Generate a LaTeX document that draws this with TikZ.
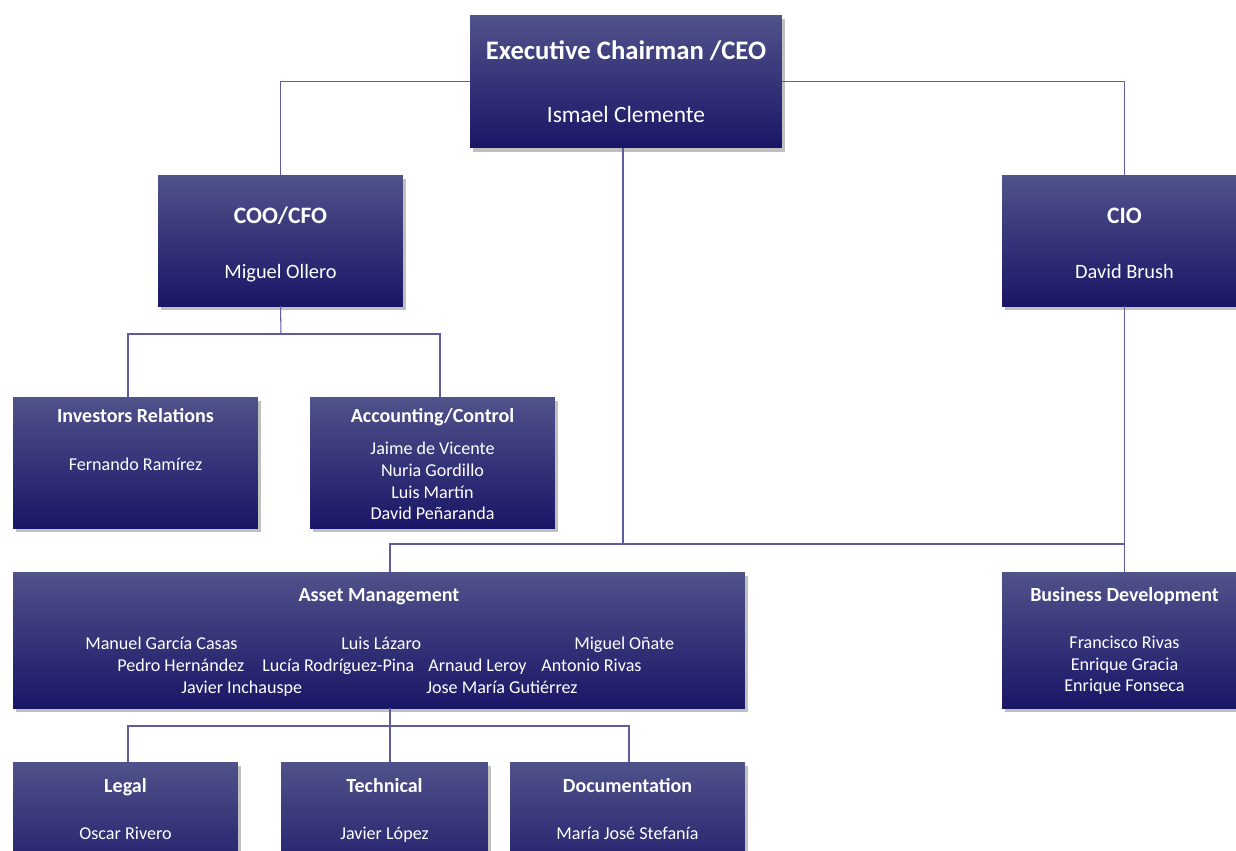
\documentclass[tikz,border=0pt]{standalone}
\usepackage{fontspec}
\setmainfont{Carlito}
\usetikzlibrary{shadows}

\definecolor{boxtop}{HTML}{50528A}
\definecolor{boxmid}{HTML}{211E73}
\definecolor{boxbot}{HTML}{1A1667}
\definecolor{linkcol}{HTML}{5C5C9E}

\begin{document}
\begin{tikzpicture}[x=0.02cm,y=-0.02cm]
    \tikzstyle{unit}=[rectangle, inner sep=0pt, outer sep=0pt,
        top color=boxtop, middle color=boxmid, bottom color=boxbot,
        drop shadow={shadow xshift=1.5pt, shadow yshift=-2.5pt, opacity=0.35, fill=black!70}]
    \tikzstyle{line text}=[text=white, text height=2.2ex, text depth=0.4ex]
    \tikzstyle{ceo head}=[line text, font=\bfseries\fontsize{15.2}{18}\selectfont]
    \tikzstyle{ceo member}=[line text, font=\fontsize{13.3}{16}\selectfont]
    \tikzstyle{big head}=[line text, font=\bfseries\fontsize{13.4}{16}\selectfont]
    \tikzstyle{big member}=[line text, font=\fontsize{11.6}{14}\selectfont]
    \tikzstyle{head}=[line text, font=\bfseries\fontsize{11.4}{13.5}\selectfont]
    \tikzstyle{member}=[line text, font=\fontsize{10.3}{12.3}\selectfont]
    \tikzstyle{crew}=[text=white, align=center, font=\fontsize{10.3}{12.3}\selectfont]
    \tikzstyle{link}=[draw=linkcol, line width=0.6pt]

    \useasboundingbox[fill=white] (0,0) rectangle (1236,850);

    % Top management
    \node[unit, minimum width=6.24cm, minimum height=2.66cm] (ceo) at (626,81.5) {};
    \node[ceo head] (ceo-t) at (626,52) {Executive Chairman /CEO};
    \node[ceo member] (ceo-n) at (626,115) {Ismael Clemente};

    \node[unit, minimum width=4.9cm, minimum height=2.62cm] (coo) at (280.5,240.5) {};
    \node[big head] (coo-t) at (280.5,216) {COO/CFO};
    \node[big member] (coo-n) at (280.5,271) {Miguel Ollero};

    \node[unit, minimum width=4.9cm, minimum height=2.62cm] (cio) at (1124.5,240.5) {};
    \node[big head] (cio-t) at (1124.5,216) {CIO};
    \node[big member] (cio-n) at (1124.5,271) {David Brush};

    % Departments under the COO/CFO
    \node[unit, minimum width=4.9cm, minimum height=2.62cm] (ir) at (135.5,462.5) {};
    \node[head] (ir-t) at (135.5,415) {Investors Relations};
    \node[member] (ir-n) at (135.5,463) {Fernando Ramírez};

    \node[unit, minimum width=4.9cm, minimum height=2.62cm] (acc) at (432.5,462.5) {};
    \node[head] (acc-t) at (432.5,415) {Accounting/Control};
    \node[crew] (acc-n) at (432.5,481) {Jaime de Vicente\\Nuria Gordillo\\Luis Martín\\David Peñaranda};

    % Asset management and business development
    \node[unit, minimum width=14.64cm, minimum height=2.72cm] (am) at (379,640) {};
    \node[head] (am-t) at (379,594) {Asset Management};
    \foreach \x/\y/\who [count=\i] in {85/642/Manuel García Casas, 341/642/Luis Lázaro,
            574/642/Miguel Oñate, 117/664/Pedro Hernández, 262/664/Lucía Rodríguez-Pina,
            428/664/Arnaud Leroy, 541/664/Antonio Rivas, 181/686/Javier Inchauspe,
            426/686/Jose María Gutiérrez}
        \node[member, anchor=west, inner sep=0pt] (am-\i) at (\x,\y) {\who};

    \node[unit, minimum width=4.9cm, minimum height=2.72cm] (bd) at (1124.5,640) {};
    \node[head] (bd-t) at (1124.5,594) {Business Development};
    \node[crew] (bd-n) at (1124.5,665.5) {Francisco Rivas\\Enrique Gracia\\Enrique Fonseca};

    % Teams under asset management
    \node[unit, minimum width=4.5cm, minimum height=2.62cm] (legal) at (125.5,827.5) {};
    \node[head] (legal-t) at (125.5,785) {Legal};
    \node[member] (legal-n) at (125.5,832) {Oscar Rivero};

    \node[unit, minimum width=4.14cm, minimum height=2.62cm] (tech) at (384.5,827.5) {};
    \node[head] (tech-t) at (384.5,785) {Technical};
    \node[member] (tech-n) at (384.5,832) {Javier López};

    \node[unit, minimum width=4.7cm, minimum height=2.62cm] (doc) at (627.5,827.5) {};
    \node[head] (doc-t) at (627.5,785) {Documentation};
    \node[member] (doc-n) at (627.5,832) {María José Stefanía};

    % Reporting lines
    \coordinate (cfo-bar) at (281,334);
    \coordinate (ceo-bar) at (390,544);
    \coordinate (am-bar) at (390,726);

    \draw[link] (ceo.west) -| (coo.north);
    \draw[link] (ceo.east) -| (cio.north);
    \draw[link] ([xshift=-0.06cm]ceo.south) |- (ceo-bar) -- (am.north -| ceo-bar);
    \draw[link] (cio.south) -- (bd.north);
    \draw[link] (ceo-bar) -| (bd.north);

    \draw[link] (coo.south) -- (cfo-bar);
    \draw[link] ([xshift=-0.15cm]ir.north) |- (cfo-bar) -| ([xshift=0.15cm]acc.north);

    \draw[link] (am.south -| am-bar) -- (am-bar);
    \draw[link] ([xshift=0.05cm]legal.north) |- (am-bar) -| ([xshift=0.03cm]doc.north);
    \draw[link] (am-bar) -- (tech.north -| am-bar);
\end{tikzpicture}
\end{document}
